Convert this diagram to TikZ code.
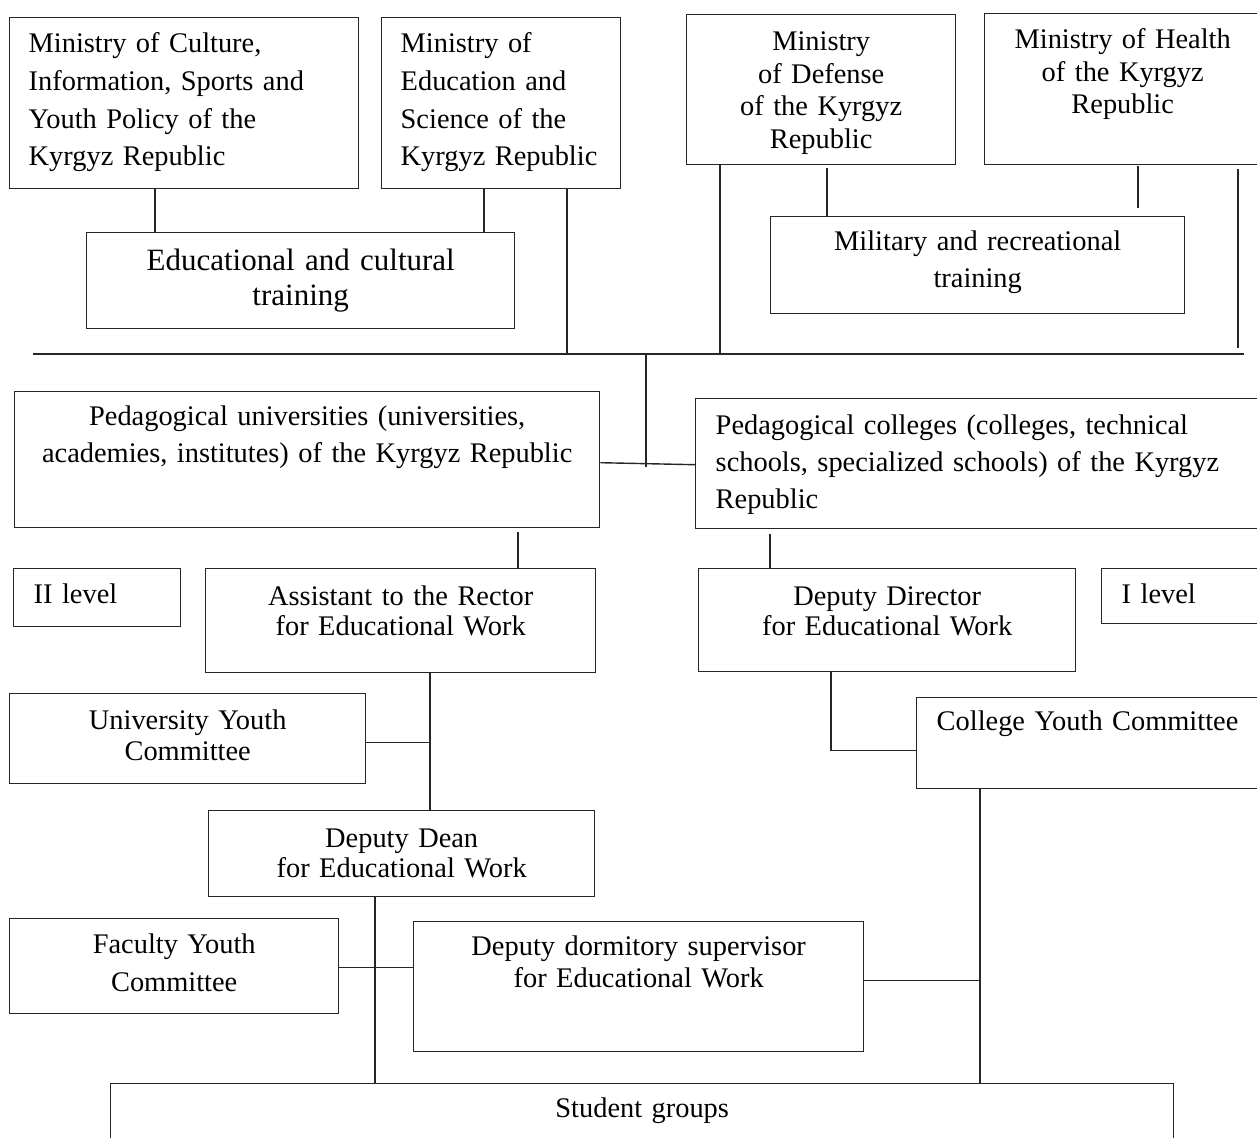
\documentclass[tikz,border=0pt]{standalone}
\usepackage{fontspec}
\setmainfont{Liberation Serif}
\usepackage{tikz}
\tikzset{
		orgbox/.style={draw=black!85, anchor=north west, inner ysep=0pt, inner xsep=0pt, align=center},
		leftbox/.style={orgbox, align=left, inner xsep=#1},
		leftbox/.default=19pt,
		lead/.style={font=\fontsize{28.4}{#1}\selectfont},
		link/.style={draw=black!85},
		}

\begin{document}
\begin{tikzpicture}[x=1pt,y=-1pt,line width=1.4pt]
					\tikzstyle{every node}=[font=\fontsize{28.4}{37.7}\selectfont]
					\useasboundingbox (0,0) rectangle (1257,1137);
					\clip (0,0) rectangle (1257,1137);
					%NODES for ministries
					\node[leftbox, text width=311pt, text height=35pt, text depth=136pt](cult) at (9,17)
						{Ministry of Culture,\\Information, Sports and\\Youth Policy of the\\Kyrgyz Republic};
					\node[leftbox, text width=201pt, text height=35pt, text depth=136pt](edu) at (381,17)
						{Ministry of\\Education and\\Science of the\\Kyrgyz Republic};
					\node[orgbox, lead=32.5, text width=269pt, text height=36pt, text depth=114pt](def) at (686,14)
						{Ministry\\of Defense\\of the Kyrgyz\\Republic};
					\node[orgbox, lead=32.5, text width=276pt, text height=35pt, text depth=116pt](hlth) at (984,13)
						{Ministry of Health\\of the Kyrgyz\\Republic};
					%NODES for training
					\node[orgbox, font=\fontsize{31}{35}\selectfont, text width=428pt, text height=38pt, text depth=58pt](ect) at (86,232)
						{Educational and cultural\\training};
					\node[orgbox, lead=37, text width=414pt, text height=34pt, text depth=63pt](mrt) at (770,216)
						{Military and recreational\\training};
					%NODES for institutions
					\node[orgbox, lead=36.7, text width=585pt, text height=34pt, text depth=102pt](univ) at (14,391)
						{Pedagogical universities (universities,\\academies, institutes) of the Kyrgyz Republic};
					\node[leftbox=20pt, lead=37, text width=560pt, text height=36pt, text depth=94pt](coll) at (695,398)
						{Pedagogical colleges (colleges, technical\\schools, specialized schools) of the Kyrgyz\\Republic};
					%NODES for levels and staff
					\node[leftbox=20pt, text width=127pt, text height=35pt, text depth=23pt](lvlii) at (13,568) {II level};
					\node[orgbox, lead=30, text width=390pt, text height=37pt, text depth=67pt](asst) at (205,568)
						{Assistant to the Rector\\for Educational Work};
					\node[orgbox, lead=30, text width=377pt, text height=37pt, text depth=66pt](ddir) at (698,568)
						{Deputy Director\\for Educational Work};
					\node[leftbox=20pt, text width=160pt, text height=35pt, text depth=20pt](lvli) at (1101,568) {I level};
					\node[orgbox, lead=31, text width=356pt, text height=36pt, text depth=54pt](uyc) at (9,693)
						{University Youth\\Committee};
					\node[leftbox=20pt, text width=360pt, text height=33pt, text depth=58pt](cyc) at (916,697)
						{College Youth Committee};
					\node[orgbox, lead=30, text width=386pt, text height=37pt, text depth=49pt](ddean) at (208,810)
						{Deputy Dean\\for Educational Work};
					\node[orgbox, lead=37.4, text width=329pt, text height=35pt, text depth=60pt](fyc) at (9,918)
						{Faculty Youth\\Committee};
					\node[orgbox, lead=31.7, text width=450pt, text height=34pt, text depth=96pt](dorm) at (413,921)
						{Deputy dormitory supervisor\\for Educational Work};
					\node[orgbox, text width=1063pt, text height=34pt, text depth=66pt](sg) at (110,1083) {Student groups};
					%COORDINATES
					\coordinate (busL) at (33,354);
					\coordinate (busR) at (1244,354);
					\coordinate (jn) at (646,467);
					%PATHS
					\draw[link] ([xshift=146pt]cult.south west) -- ([xshift=69pt]ect.north west);
					\draw[link] ([xshift=103pt]edu.south west) -- ([xshift=398pt]ect.north west);
					\draw[link] ([xshift=186pt]edu.south west) coordinate (e2) -- (e2 |- busL);
					\draw[link] ([xshift=34pt]def.south west) coordinate (d1) -- (d1 |- busL);
					\draw[link] ([xshift=141pt,yshift=-3pt]def.south west) -- ([xshift=57pt]mrt.north west);
					\draw[link] ([xshift=154pt,yshift=-1pt]hlth.south west) -- ([xshift=368pt,yshift=8pt]mrt.north west);
					\draw[link] ([xshift=254pt,yshift=-4pt]hlth.south west) coordinate (h2) -- ([yshift=6pt]h2 |- busL);
					\draw[link] (busL) -- (busR);
					\draw[link] (jn |- busL) -- (jn);
					\draw[link] ([yshift=-3pt]univ.east) -- ([yshift=-1pt]coll.west);
					\draw[link] ([xshift=504pt,yshift=-4pt]univ.south west) -- ([xshift=313pt]asst.north west);
					\draw[link] ([xshift=75pt,yshift=-5pt]coll.south west) -- ([xshift=72pt]ddir.north west);
					\draw[link] ([xshift=225pt]asst.south west) coordinate (a1) -- ([xshift=222pt]ddean.north west);
					\draw[link] ([yshift=-4pt]uyc.east) coordinate (u1) -- (u1 -| a1);
					\draw[link] ([xshift=167pt]ddean.south west) coordinate (dd1) -- (dd1 |- sg.north);
					\draw[link] ([yshift=-1.5pt]fyc.east) coordinate (f1) -- (f1 -| dorm.west);
					\draw[link] ([xshift=133pt]ddir.south west) |- ([yshift=-7pt]cyc.west);
					\draw[link] ([xshift=64pt]cyc.south west) coordinate (cy1) -- (cy1 |- sg.north);
					\draw[link] ([yshift=6pt]dorm.east) coordinate (dm1) -- (dm1 -| cy1);
				\end{tikzpicture}
\end{document}
